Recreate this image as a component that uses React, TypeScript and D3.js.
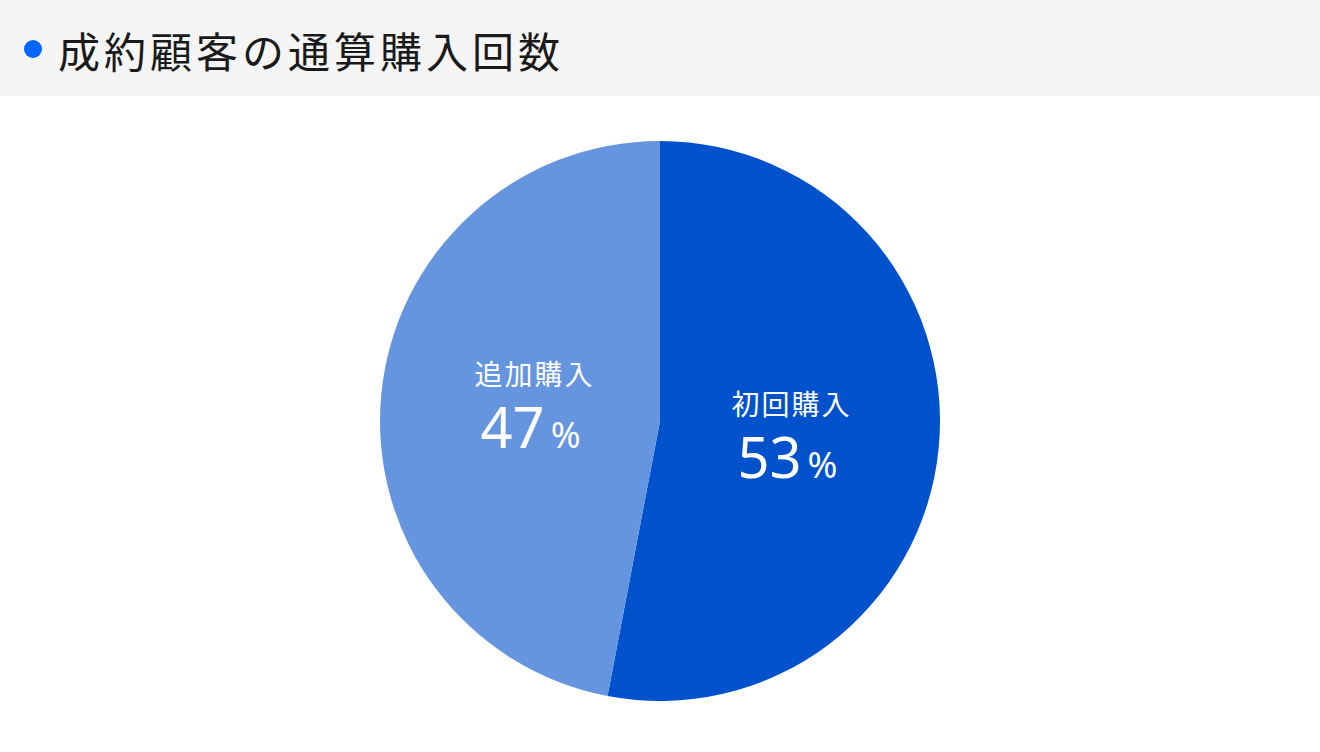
import React from 'react'
import * as d3 from 'd3'

// Chart data
const categories = ['初回購入', '追加購入']
const values = [53, 47]
const colors = ['#0052cc', '#6495de']
const title = '成約顧客の通算購入回数'

const W = 1320
const H = 752

const App: React.FC = () => {
  const cx = 660
  const cy = 421
  const radius = 280

  const pie = d3.pie<number>().sort(null).value(d => d)
  const arcs = pie(values)
  const arc = d3.arc<d3.PieArcDatum<number>>().innerRadius(0).outerRadius(radius)
  const labelArc = d3.arc<d3.PieArcDatum<number>>().innerRadius(129).outerRadius(129)

  const font = '"Noto Sans CJK JP", "Noto Sans", sans-serif'

  return (
    <div style={{ position: 'absolute', left: 0, top: 0 }}>
      <svg width={W} height={H} viewBox={`0 0 ${W} ${H}`} style={{ display: 'block', fontFamily: font }}>
        <rect x={0} y={0} width={W} height={H} fill="#ffffff" />
        {/* header */}
        <rect x={0} y={0} width={W} height={96} fill="#f5f5f5" />
        <circle cx={33} cy={49} r={9} fill="#0066ff" />
        <text x={58} y={68} fontSize={42} fill="#1a1a1a" letterSpacing={4}>{title}</text>

        {/* pie */}
        <g transform={`translate(${cx},${cy})`}>
          {arcs.map((a, i) => (
            <path key={categories[i]} d={arc(a) || ''} fill={colors[i]} />
          ))}
          {arcs.map((a, i) => {
            const [lx, ly] = labelArc.centroid(a)
            return (
              <g key={'l' + i} transform={`translate(${lx + 3},${ly * 1.2 + 1})`} fill="#ffffff" textAnchor="middle">
                <text y={-22} fontSize={28} letterSpacing={2}>{categories[i]}</text>
                <text y={41} dx={-4} fontFamily='"Noto Sans", "Noto Sans CJK JP", sans-serif'>
                  <tspan fontSize={56}>{values[i]}</tspan>
                  <tspan fontSize={36} dx={6}>%</tspan>
                </text>
              </g>
            )
          })}
        </g>
      </svg>
    </div>
  )
}

export default App
